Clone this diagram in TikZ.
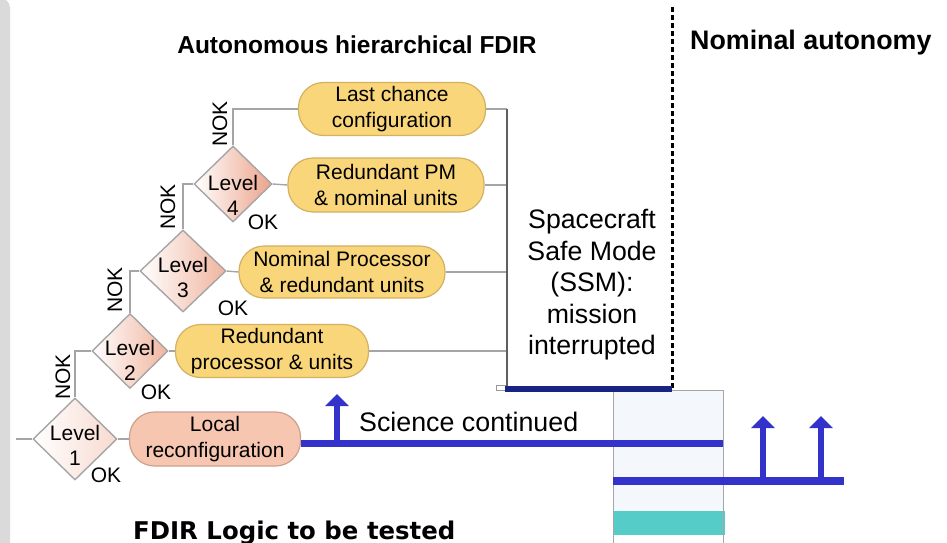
\documentclass[tikz,border=0pt]{standalone}
\usepackage{fontspec}
\setmainfont{Liberation Sans}
\newfontfamily\widesans{DejaVu Sans}
\usetikzlibrary{shapes.geometric,arrows.meta}

\definecolor{boxyellow}{RGB}{249,214,122}
\definecolor{boxyellowedge}{RGB}{212,176,98}
\definecolor{boxsalmon}{RGB}{246,198,176}
\definecolor{boxsalmonedge}{RGB}{205,160,142}
\definecolor{dsalmon}{RGB}{236,163,138}
\definecolor{dmid}{RGB}{240,180,158}
\definecolor{dpale}{RGB}{247,218,208}
\definecolor{linkgray}{RGB}{165,165,165}
\definecolor{busgray}{RGB}{95,95,95}
\definecolor{sciblue}{RGB}{51,51,204}
\definecolor{ssmnavy}{RGB}{25,35,130}
\definecolor{ssmteal}{RGB}{86,204,200}
\definecolor{paleblue}{RGB}{244,248,253}
\definecolor{panelgray}{RGB}{218,218,218}

\begin{document}
\begin{tikzpicture}[x=1pt,y=-1pt,
  txt/.style={font=\fontsize{21}{25}\selectfont, align=center, inner sep=0},
  levelbox/.style={diamond, draw=linkgray, line width=1.4pt, inner sep=0,
    left color=white, right color=dsalmon},
  pill/.style={rectangle, rounded corners=25pt, line width=1.2pt, inner sep=0,
    font=\fontsize{21}{25.5}\selectfont, align=center},
  yellowbox/.style={pill, fill=boxyellow, draw=boxyellowedge},
  salmonbox/.style={pill, fill=boxsalmon, draw=boxsalmonedge},
  link/.style={draw=linkgray, line width=1.4pt},
  busline/.style={draw=busgray, line width=1.5pt},
  sciline/.style={draw=sciblue, line width=7pt},
  upflow/.style={draw=sciblue, line width=6pt, -{Triangle[width=23pt,length=12pt]}},
  sepline/.style={draw=black, line width=3pt, dash pattern=on 5pt off 3pt},
  heading/.style={font=\fontsize{24.5}{28}\selectfont\bfseries, inner sep=0},
]
\useasboundingbox (0,0) rectangle (947,543);

% grey side panel
\fill[panelgray, rounded corners=10pt] (-30,-2) rectangle (10,560);

% headings
\node[heading] (title) at (357,45) {Autonomous hierarchical FDIR};
\node[heading, font=\fontsize{26.8}{30}\selectfont\bfseries, anchor=west] (nomtitle) at (690,43) {Nominal autonomy};

% after-SSM recovery column
\fill[paleblue] (613,390) rectangle (723,511);
\fill[ssmteal] (613,511) rectangle (725,535);
\draw[draw=gray!70, line width=1pt] (613,550) -- (613,390) -- (723,390) -- (723,550);

% decision levels
\node[levelbox, minimum width=84pt, minimum height=82pt, right color=dpale] (L1) at (75,439) {};
\node[levelbox, minimum width=76pt, minimum height=75pt, right color=dmid] (L2) at (130,351) {};
\node[levelbox, minimum width=86pt, minimum height=82pt, right color=dmid] (L3) at (183,271) {};
\node[levelbox, minimum width=78pt, minimum height=76pt] (L4) at (233,184) {};

\node[txt] (L1t) at (75,445.5) {Level\\1};
\node[txt] (L2t) at (130,360) {Level\\2};
\node[txt] (L3t) at (183,277.5) {Level\\3};
\node[txt] (L4t) at (233,195) {Level\\4};

% reconfiguration actions
\node[salmonbox, minimum width=171pt, minimum height=54pt] (LR) at (215,439) {Local\\reconfiguration};
\node[yellowbox, minimum width=193pt, minimum height=53pt] (RP) at (272,351) {Redundant\\processor \& units};
\node[yellowbox, minimum width=206pt, minimum height=52pt] (NP) at (342,272) {Nominal Processor\\\& redundant units};
\node[yellowbox, minimum width=196pt, minimum height=54pt] (RPM) at (386,185) {Redundant PM\\\& nominal units};
\node[yellowbox, minimum width=187pt, minimum height=53pt] (LC) at (392,109) {Last chance\\configuration};

% decision flow
\coordinate (in1) at (16,439);
\draw[link] (in1) -- (L1.west);
\draw[link] (L1.north) |- (L2.west);
\draw[link] (L2.north) |- (L3.west);
\draw[link] (L3.north) |- (L4.west);
\draw[link] (L4.north) |- (LC.west);
\draw[link] (L1.east) -- (LR.west);
\draw[link] (L2.east) -- (RP.west);
\draw[link] (L3.east) -- (NP.west);
\draw[link] (L4.east) -- (RPM.west);

\node[txt, rotate=90] (nok1) at (63,377) {NOK};
\node[txt, rotate=90] (nok2) at (115,290) {NOK};
\node[txt, rotate=90] (nok3) at (168,207) {NOK};
\node[txt, rotate=90] (nok4) at (220,124) {NOK};
\node[txt] (ok1) at (106,475) {OK};
\node[txt] (ok2) at (156,392) {OK};
\node[txt] (ok3) at (233,308) {OK};
\node[txt] (ok4) at (263,222) {OK};

% failed levels feed the safe mode bus
\coordinate (busTop) at (507,109);
\coordinate (busBot) at (507,389);
\draw[link] (RP.east) -- (RP.east -| busTop);
\draw[link] (NP.east) -- (NP.east -| busTop);
\draw[link] (RPM.east) -- (RPM.east -| busTop);
\draw[link] (LC.east) -- (LC.east -| busTop);
\draw[busline] (busTop) -- (busBot);

\node[draw=gray!80, fill=white, line width=0.8pt, minimum width=9pt, minimum height=5pt, inner sep=0] (tab) at (501,388) {};
\coordinate (ssmL) at (505,389);
\coordinate (sepTop) at (672,7);
\coordinate (sepBot) at (672,389);
\draw[sepline] (sepTop) -- (sepBot);
\draw[draw=ssmnavy, line width=6pt] (ssmL) -- (sepBot);

\node[font=\fontsize{26.7}{31.5}\selectfont, align=center, inner sep=0] (ssm) at (592,285)
  {Spacecraft\\Safe Mode\\(SSM):\\mission\\interrupted};

% science timelines
\coordinate (sciEnd) at (723,443);
\draw[sciline] (LR.east |- sciEnd) -- (sciEnd);
\coordinate (sciFoot) at (337,443);
\coordinate (sciTip) at (337,394);
\draw[upflow] (sciFoot) -- (sciTip);
\node[font=\fontsize{26.8}{30}\selectfont, anchor=west, inner sep=0] (sci) at (359,422) {Science continued};

\coordinate (nomL) at (613,481);
\coordinate (nomR) at (844,481);
\draw[draw=sciblue, line width=8pt] (nomL) -- (nomR);
\coordinate (upAfoot) at (763,481);
\coordinate (upAtip) at (763,416);
\coordinate (upBfoot) at (821,481);
\coordinate (upBtip) at (821,416);
\draw[upflow] (upAfoot) -- (upAtip);
\draw[upflow] (upBfoot) -- (upBtip);

% caption
\node[font=\widesans\fontsize{24.4}{28}\selectfont\bfseries, anchor=base west, inner sep=0] (caption) at (133,539) {FDIR Logic to be tested};
\end{tikzpicture}
\end{document}
